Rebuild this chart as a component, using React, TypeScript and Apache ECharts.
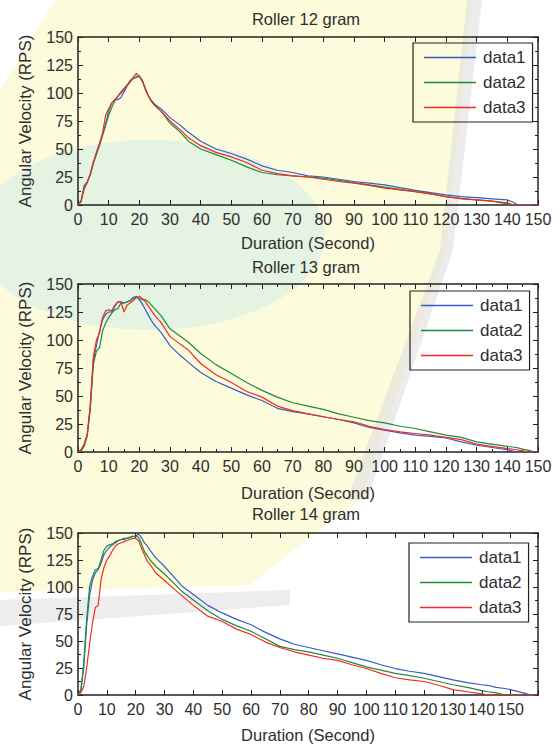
import React, { useEffect, useRef } from 'react';
import * as echarts from 'echarts';

// ---------- data ----------
const SERIES_NAMES = ['data1', 'data2', 'data3'];
const TITLES = ['Roller 12 gram', 'Roller 13 gram', 'Roller 14 gram'];
const X_MAX = [150, 150, 159.5];
const Y_TICKS = [0, 25, 50, 75, 100, 125, 150];

// Roller 12 gram
const t12 = [0, 1, 2, 3, 4, 5, 6, 7, 8, 9, 10, 11, 12, 13, 14, 15, 16, 17, 18, 19, 20, 21, 22, 23, 24, 25, 27, 30, 33, 36, 40, 45, 50, 55, 60, 65, 70, 75, 80, 85, 90, 95, 100, 105, 110, 115, 120, 125, 130, 135, 140, 142, 143, 145, 150];
const r12d1 = [0, 3, 16, 20, 27, 38, 46, 54, 63, 72, 84, 91, 94, 94, 96, 101, 106, 110, 113, 114.5, 115, 111, 104, 97, 93, 90, 86, 78, 72, 65, 57, 50, 46, 41, 35, 31, 29, 26, 25, 23, 21, 19.5, 18, 15.5, 13, 11, 9, 7.5, 6.5, 5.5, 4.5, 2.5, 0.5, 0, 0];
const r12d2 = [0, 3, 17, 21, 27, 37, 45, 53, 62, 71, 80, 87, 93, 97, 101, 104, 107, 110, 113, 114, 115, 111, 103, 97, 93, 89, 84, 73, 66, 57, 50, 45, 40, 34, 29, 27, 26, 25, 24, 22, 20, 18, 16, 14, 12, 10, 7.5, 6, 4.5, 3.5, 1, 0, 0, 0, 0];
const r12d3 = [0, 4, 14, 20, 28, 38, 47, 55, 64, 80, 86, 91, 94, 97, 100, 103, 107, 111, 114, 117.5, 115, 110, 103, 97, 92, 89, 84, 75, 68, 60, 53, 47, 43, 38, 31, 28, 26, 25, 23, 21, 19.5, 17.5, 15, 13.5, 12, 10, 7.5, 5.5, 4.5, 3.5, 2, 0, 0, 0, 0];

// Roller 13 gram
const t13 = [0, 1, 2, 3, 4, 5, 6, 7, 8, 9, 10, 11, 12, 13, 14, 15, 16, 17, 18, 19, 20, 21, 22, 23, 24, 25, 27, 30, 33, 36, 40, 45, 50, 55, 60, 65, 70, 75, 80, 85, 90, 95, 100, 105, 110, 115, 120, 125, 130, 135, 140, 143, 145, 147, 149, 150];
const r13d1 = [0, 2, 6, 15, 40, 82, 95, 108, 118, 123, 125, 125, 130, 134, 134, 133, 134, 135, 138, 139, 136, 132, 127, 122, 117, 113, 107, 95, 87, 80, 71, 63, 57, 51, 46, 39, 36, 34, 31.5, 29, 26, 22, 19.5, 17, 15, 14, 12.5, 9, 6, 4, 2, 0, 0, 0, 0, 0];
const r13d2 = [0, 1, 5, 14, 38, 78, 90, 93, 108, 115, 120, 124, 127, 128, 133, 133, 134, 135, 137, 138, 137, 136, 136, 134, 131, 128, 122, 110, 104, 98, 88, 78, 70, 62, 55, 49, 44, 41, 38, 34, 31, 28, 26, 23, 21, 18, 15, 13, 9, 7, 5, 4, 2.5, 1.5, 0, 0];
const r13d3 = [0, 2, 7, 16, 42, 85, 100, 106, 120, 126, 127, 126, 131, 134, 134, 125, 131, 133, 135, 138, 139, 137, 134, 130, 126, 122, 116, 103, 97, 91, 79, 69, 62, 54, 49, 41, 37, 34, 31.5, 29, 27, 23, 20, 18, 16.5, 15, 13, 11, 7, 5, 3, 2, 1, 0, 0, 0];

// Roller 14 gram
const t14 = [0, 1, 2, 3, 4, 5, 6, 7, 8, 9, 10, 11, 12, 13, 14, 15, 16, 17, 18, 19, 20, 21, 22, 23, 24, 25, 27, 30, 33, 36, 40, 45, 50, 55, 60, 65, 70, 75, 80, 85, 90, 95, 100, 105, 110, 115, 120, 125, 130, 135, 140, 142, 145, 148, 150, 155, 157, 159];
const r14d1 = [0, 5, 25, 65, 92, 106, 113, 116, 122, 130, 134, 137, 139, 141, 143, 144, 145, 145, 146, 147, 147, 149, 146, 141, 138, 134, 127, 119, 110, 101, 93, 83, 76, 70, 65, 58, 52, 47, 44, 41, 38, 35, 32, 28, 24.5, 22, 20, 17, 14, 11.5, 9.5, 9, 7, 6, 5, 1.5, 0, 0];
const r14d2 = [0, 4, 30, 70, 100, 110, 116, 117, 125, 134, 138, 139, 140, 142, 143, 144, 144, 145, 146, 147, 147, 146, 140, 133, 129, 125, 119, 112, 104, 96, 88, 78, 70, 64, 59, 52, 45, 42, 40, 37, 34, 30, 26, 23, 20, 18, 15.5, 12.5, 9.5, 7, 4, 3, 2, 0, 0, 0, 0, 0];
const r14d3 = [0, 2, 8, 25, 47, 66, 81, 83, 107, 118, 125, 129, 134, 138, 140, 141, 142, 143, 144, 145, 145, 143, 136, 130, 124, 121, 113, 106, 99, 92, 83, 73, 68, 61, 56, 49, 44, 40, 37, 34, 32, 28, 24.5, 20, 16, 14, 12.5, 9, 5, 3, 1, 0, 0, 0, 0, 0, 0, 0];

const TIMES = [t12, t13, t14];
const VALUES = [
  [r12d1, r12d2, r12d3],
  [r13d1, r13d2, r13d3],
  [r14d1, r14d2, r14d3],
];

// ---------- layout / style ----------
const COLORS = ['#3a5bc4', '#1f8a3e', '#f42a22'];
const FONT = 'Liberation Sans, Arial, Helvetica, sans-serif';
const TEXT = '#2e2e2e';
const AXIS = '#222222';
const LAYOUT = [
  { top: 37, height: 168, titleTop: 10, nameGap: 29, minorX: false, legendTop: 43, legendLeft: 413 },
  { top: 284, height: 168, titleTop: 258, nameGap: 32, minorX: true, legendTop: 291, legendLeft: 410 },
  { top: 533, height: 166, titleTop: 505, nameGap: 31, minorX: false, legendTop: 543, legendLeft: 409 },
];

export default function App() {
  const ref = useRef<HTMLDivElement>(null);

  useEffect(() => {
    if (!ref.current) return;
    const chart = echarts.init(ref.current, undefined, { renderer: 'svg' });

    const grids: any[] = [];
    const xAxes: any[] = [];
    const yAxes: any[] = [];
    const titles: any[] = [];
    const legends: any[] = [];
    const series: any[] = [];

    LAYOUT.forEach((L, i) => {
      grids.push({ left: 78, top: L.top, width: 460, height: L.height, containLabel: false });
      const lineStyle = { color: AXIS, width: 1.5 };
      const tick = { show: true, inside: true, length: 5, lineStyle: { color: AXIS, width: 1 } };
      const minor = { show: true, splitNumber: 2, length: 3, lineStyle: { color: AXIS, width: 1 } };
      xAxes.push({
        type: 'value', gridIndex: i, position: 'bottom', min: 0, max: X_MAX[i], interval: 10,
        name: 'Duration (Second)', nameLocation: 'middle', nameGap: L.nameGap,
        nameTextStyle: { fontFamily: FONT, fontSize: 16.5, color: TEXT },
        axisLine: { show: true, onZero: false, lineStyle },
        axisTick: tick,
        minorTick: L.minorX ? minor : { show: false },
        splitLine: { show: false },
        axisLabel: {
          margin: 6, fontFamily: FONT, fontSize: 16, color: TEXT, showMaxLabel: true,
          formatter: (v: number) => (v % 10 === 0 ? String(v) : ''),
        },
      });
      xAxes.push({
        type: 'value', gridIndex: i, position: 'top', min: 0, max: X_MAX[i], interval: 10,
        axisLine: { show: true, onZero: false, lineStyle },
        axisTick: tick,
        minorTick: L.minorX ? minor : { show: false },
        splitLine: { show: false },
        axisLabel: { show: false },
      });
      yAxes.push({
        type: 'value', gridIndex: i, position: 'left', min: 0, max: 150, interval: 25,
        name: 'Angular Velocity (RPS)', nameLocation: 'middle', nameGap: 44, nameRotate: 90,
        nameTextStyle: { fontFamily: FONT, fontSize: 17, color: TEXT },
        axisLine: { show: true, onZero: false, lineStyle },
        axisTick: tick,
        minorTick: minor,
        splitLine: { show: false },
        axisLabel: {
          margin: 5, fontFamily: FONT, fontSize: 16, color: TEXT,
          formatter: (v: number) => (Y_TICKS.includes(v) ? String(v) : ''),
        },
      });
      yAxes.push({
        type: 'value', gridIndex: i, position: 'right', min: 0, max: 150, interval: 25,
        axisLine: { show: true, onZero: false, lineStyle },
        axisTick: tick,
        minorTick: minor,
        splitLine: { show: false },
        axisLabel: { show: false },
      });
      titles.push({
        text: TITLES[i], left: 306, top: L.titleTop, textAlign: 'center', padding: 0,
        textStyle: { fontFamily: FONT, fontSize: 16.5, fontWeight: 'normal', color: TEXT },
      });
      legends.push({
        data: SERIES_NAMES, orient: 'vertical', left: L.legendLeft, top: L.legendTop,
        padding: [6, 7, 6, 11], itemGap: 8, itemWidth: 52, itemHeight: 1.5, icon: 'rect',
        borderColor: '#222', borderWidth: 1.2, backgroundColor: 'transparent',
        selectedMode: false,
        textStyle: { fontFamily: FONT, fontSize: 17, color: TEXT, padding: [0, 0, 0, 2] },
      });
      SERIES_NAMES.forEach((name, k) => {
        const t = TIMES[i];
        const v = VALUES[i][k];
        series.push({
          name, type: 'line', xAxisIndex: i * 2, yAxisIndex: i * 2,
          data: t.map((x, j) => [x, v[j]]),
          symbol: 'none', showSymbol: false,
          lineStyle: { color: COLORS[k], width: 1.2 },
          itemStyle: { color: COLORS[k] },
          z: 3 + (k === 2 ? 1 : 0),
        });
      });
    });

    chart.setOption({
      animation: false,
      backgroundColor: '#ffffff',
      title: titles,
      legend: legends,
      grid: grids,
      xAxis: xAxes,
      yAxis: yAxes,
      series,
      graphic: [
        {
          type: 'polygon', z: -100, silent: true,
          shape: { points: [[55, 0], [472, 0], [446, 250], [360, 500], [300, 545], [250, 585], [0, 592], [0, 90]] },
          style: { fill: '#fcfbdc' },
        },
        { type: 'ellipse', z: -99, silent: true, shape: { cx: 150, cy: 235, rx: 175, ry: 95 }, style: { fill: '#e0f1e4', opacity: 0.85 } },
        { type: 'polygon', z: -98, silent: true, shape: { points: [[467, 0], [482, 0], [453, 250], [367, 500], [347, 500], [440, 250]] }, style: { fill: '#dddddd', opacity: 0.55 } },
        { type: 'polygon', z: -98, silent: true, shape: { points: [[0, 600], [290, 590], [290, 605], [0, 626]] }, style: { fill: '#dedede', opacity: 0.55 } },
      ],
    });

    return () => chart.dispose();
  }, []);

  return (
    <div
      ref={ref}
      style={{ position: 'fixed', left: 0, top: 0, width: 560, height: 744 }}
    />
  );
}
